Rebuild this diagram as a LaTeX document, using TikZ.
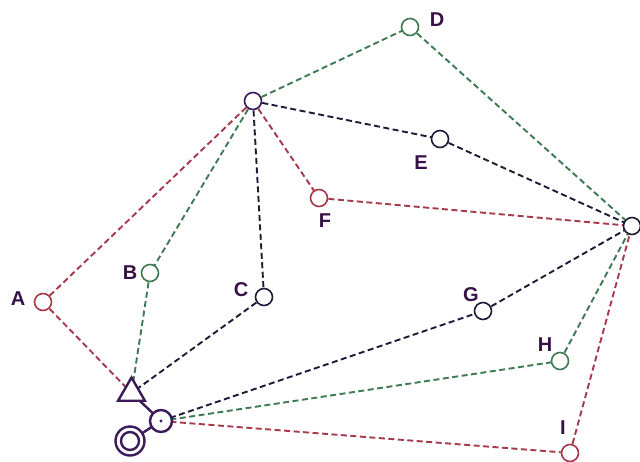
\documentclass[tikz,border=0pt]{standalone}
\usepackage{fontspec}
\setmainfont{Liberation Sans}
\usetikzlibrary{shapes.geometric}
\definecolor{ered}{HTML}{A8384A}
\definecolor{egreen}{HTML}{3E7A52}
\definecolor{eblack}{HTML}{1C1C36}
\definecolor{lbl}{HTML}{361048}
\definecolor{purp}{HTML}{3A1A5A}
\begin{document}
\begin{tikzpicture}[x=1pt,y=-1pt,
  vtx/.style={circle,draw=#1,fill=white,line width=1.6pt,minimum size=17pt,inner sep=0pt},
  edge/.style={draw=#1,line width=1.9pt,dash pattern=on 6pt off 3.5pt},
  lab/.style={text=lbl,font=\bfseries\fontsize{20}{20}\selectfont,inner sep=0pt},
  solidp/.style={draw=purp,line width=2.4pt}]
\useasboundingbox (0,0) rectangle (640,461);
% vertices coordinates
\coordinate (pT) at (253,101);
\coordinate (pD) at (410,27);
\coordinate (pE) at (440,139);
\coordinate (pF) at (319,198);
\coordinate (pR) at (632,226);
\coordinate (pA) at (43,302);
\coordinate (pB) at (150,273);
\coordinate (pC) at (264,297);
\coordinate (pG) at (483,311);
\coordinate (pH) at (560,361);
\coordinate (pI) at (570,453);
\coordinate (pTri) at (131.5,393);
\coordinate (pDot) at (161,421);
\coordinate (pDbl) at (130,441);
% edges
\draw[edge=egreen] (pT) -- (pD);
\draw[edge=egreen] (pD) -- (pR);
\draw[edge=eblack] (pT) -- (pE);
\draw[edge=eblack] (pE) -- (pR);
\draw[edge=ered] (pT) -- (pF);
\draw[edge=ered] (pF) -- (pR);
\draw[edge=ered] (pT) -- (pA);
\draw[edge=ered] (pA) -- (pTri);
\draw[edge=egreen] (pT) -- (pB);
\draw[edge=egreen] (pB) -- (pTri);
\draw[edge=eblack] (pT) -- (pC);
\draw[edge=eblack] (pC) -- (pTri);
\draw[edge=eblack] (pDot) -- (pG);
\draw[edge=eblack] (pG) -- (pR);
\draw[edge=egreen] (pDot) -- (pH);
\draw[edge=egreen] (pH) -- (pR);
\draw[edge=ered] (pDot) -- (pI);
\draw[edge=ered] (pI) -- (pR);
\draw[solidp] (pTri) -- (pDot) -- (pDbl);
% nodes
\node[vtx=purp] (T) at (pT) {};
\node[vtx=egreen] (D) at (pD) {};
\node[vtx=eblack] (E) at (pE) {};
\node[vtx=ered] (F) at (pF) {};
\node[vtx=eblack] (R) at (pR) {};
\node[vtx=ered] (A) at (pA) {};
\node[vtx=egreen] (B) at (pB) {};
\node[vtx=eblack] (C) at (pC) {};
\node[vtx=eblack] (G) at (pG) {};
\node[vtx=egreen] (H) at (pH) {};
\node[vtx=ered] (I) at (pI) {};
\node[regular polygon,regular polygon sides=3,draw=purp,fill=white,line width=2.4pt,minimum size=31pt,inner sep=0pt] (Tri) at (pTri) {};
\node[circle,draw=purp,fill=white,line width=2.4pt,minimum size=22pt,inner sep=0pt] (Dot) at (pDot) {};
\fill[purp] (Dot.center) circle (1.6pt);
\node[circle,draw=purp,fill=white,line width=2.4pt,minimum size=29pt,inner sep=0pt] (Dbl) at (pDbl) {};
\node[circle,draw=purp,line width=2.4pt,minimum size=18pt,inner sep=0pt] (DblIn) at (pDbl) {};
% labels
\node[lab] (lD) at (437,20) {D};
\node[lab] (lE) at (421,163) {E};
\node[lab] (lF) at (325,221) {F};
\node[lab] (lA) at (18,299) {A};
\node[lab] (lB) at (130,273) {B};
\node[lab] (lC) at (241,290) {C};
\node[lab] (lG) at (471,295) {G};
\node[lab] (lH) at (545,345) {H};
\node[lab] (lI) at (563,428) {I};
\end{tikzpicture}
\end{document}
